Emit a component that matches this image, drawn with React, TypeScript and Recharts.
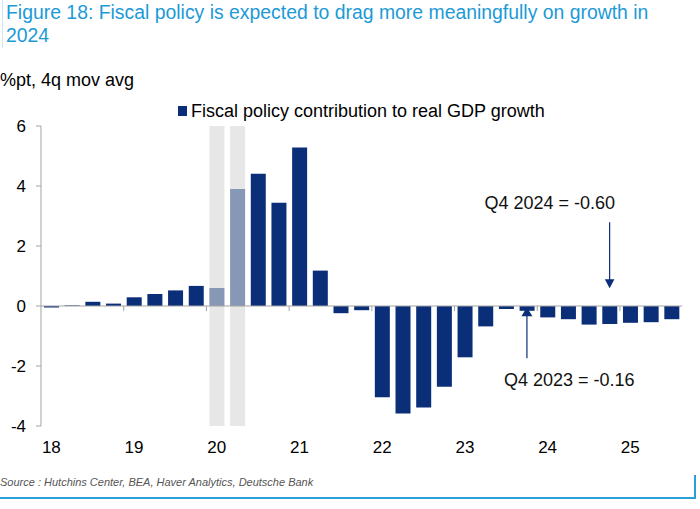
import React from "react";
import {
  BarChart,
  Bar,
  XAxis,
  YAxis,
  Cell,
  ReferenceLine,
  ReferenceDot,
} from "recharts";

// quarterly categories, 2018Q1 .. 2025Q3
const quarters = [
  "2018Q1", "2018Q2", "2018Q3", "2018Q4",
  "2019Q1", "2019Q2", "2019Q3", "2019Q4",
  "2020Q1", "2020Q2", "2020Q3", "2020Q4",
  "2021Q1", "2021Q2", "2021Q3", "2021Q4",
  "2022Q1", "2022Q2", "2022Q3", "2022Q4",
  "2023Q1", "2023Q2", "2023Q3", "2023Q4",
  "2024Q1", "2024Q2", "2024Q3", "2024Q4",
  "2025Q1", "2025Q2", "2025Q3",
];

// fiscal policy contribution to real GDP growth, %pt, 4q mov avg
const fiscalContribution = [
  -0.05, 0.02, 0.14, 0.08,
  0.29, 0.4, 0.52, 0.67,
  0.6, 3.9, 4.41, 3.44,
  5.28, 1.18, -0.24, -0.14,
  -3.04, -3.58, -3.38, -2.69,
  -1.71, -0.68, -0.1, -0.16,
  -0.38, -0.44, -0.62, -0.6,
  -0.56, -0.54, -0.44,
];

const recessionQuarters = ["2020Q1", "2020Q2"];

const yearTicks = ["2018Q1", "2019Q1", "2020Q1", "2021Q1", "2022Q1", "2023Q1", "2024Q1", "2025Q1"];
const yearLabels = ["18", "19", "20", "21", "22", "23", "24", "25"];
const yTicks = [-4, -2, 0, 2, 4, 6];

const DARK = "#0b2e78";
const LIGHT = "#8798b6";
const AXIS = "#a3a3a3";

const data = quarters.map((q, i) => ({ q, v: fiscalContribution[i] }));

const yearLabel = (q: string) => yearLabels[yearTicks.indexOf(q)] ?? "";

const RecessionBg = (props: any) => {
  const q = props.payload?.q ?? quarters[props.index];
  if (!recessionQuarters.includes(q)) return <g />;
  return <rect x={props.x} y={props.y} width={props.width} height={props.height} fill="#e7e7e7" />;
};

const ArrowDown = (p: any) => (
  <path d={`M${p.cx},${p.cy} l-4.8,-9 l9.6,0 z`} fill={DARK} />
);
const ArrowUp = (p: any) => (
  <path d={`M${p.cx},${p.cy} l-5.5,9 l11,0 z`} fill={DARK} />
);

const noteText = (text: string, anchor: "start" | "end", dx: number) => (p: any) => (
  <text
    x={p.cx + dx}
    y={p.cy}
    textAnchor={anchor}
    dominantBaseline="central"
    fontSize={18}
    fill="#111"
  >
    {text}
  </text>
);

export default function App() {
  return (
    <div
      style={{
        position: "absolute",
        left: 0,
        top: 0,
        width: 700,
        height: 509,
        background: "#fff",
        fontFamily: "'Liberation Sans', Arial, sans-serif",
        overflow: "hidden",
      }}
    >
      <div style={{ position: "absolute", left: 2, top: 0, width: 1, height: 48, background: "#cfe5f3" }} />
      <div
        style={{
          position: "absolute",
          left: 6,
          top: 1,
          width: 690,
          fontSize: 19.4,
          lineHeight: "23px",
          color: "#1c9ad6",
          whiteSpace: "nowrap",
        }}
      >
        Figure 18: Fiscal policy is expected to drag more meaningfully on growth in
        <br />
        2024
      </div>
      <div style={{ position: "absolute", left: 0, top: 70, fontSize: 18, lineHeight: "20px", color: "#000" }}>
        %pt, 4q mov avg
      </div>
      <div style={{ position: "absolute", left: 178, top: 101, fontSize: 18, lineHeight: "20px", color: "#000", display: "flex", alignItems: "center" }}>
        <span style={{ display: "inline-block", width: 9, height: 10, background: DARK, marginRight: 4 }} />
        Fiscal policy contribution to real GDP growth
      </div>

      <div style={{ position: "absolute", left: 0, top: 0 }}>
        <BarChart
          width={700}
          height={509}
          data={data}
          margin={{ top: 126, right: 18, bottom: 53, left: 0 }}
        >
          <XAxis
            dataKey="q"
            ticks={yearTicks}
            interval={0}
            tickFormatter={yearLabel}
            axisLine={false}
            tickLine={false}
            tickMargin={9}
            height={30}
            tick={{ fontSize: 17, fill: "#000" }}
          />
          <YAxis
            type="number"
            domain={[-4, 6]}
            ticks={yTicks}
            width={41}
            stroke={AXIS}
            tickSize={5}
            tickMargin={10}
            tick={{ fontSize: 17, fill: "#000" }}
          />
          <ReferenceLine y={0} stroke={AXIS} strokeWidth={1.2} />
          {yearTicks.slice(1).map((q) => (
            <ReferenceLine
              key={q}
              position="start"
              segment={[
                { x: q, y: 0 },
                { x: q, y: -0.17 },
              ]}
              stroke={AXIS}
            />
          ))}
          <Bar
            dataKey="v"
            barSize={15}
            isAnimationActive={false}
            background={RecessionBg}
          >
            {data.map((d) => (
              <Cell key={d.q} fill={recessionQuarters.includes(d.q) ? LIGHT : DARK} />
            ))}
          </Bar>

          {/* Q4 2024 note */}
          <ReferenceLine
            segment={[
              { x: "2024Q4", y: 2.79 },
              { x: "2024Q4", y: 0.85 },
            ]}
            stroke={DARK}
            strokeWidth={1.2}
          />
          <ReferenceDot x="2024Q4" y={0.59} r={0} shape={ArrowDown} />
          <ReferenceDot x="2024Q4" y={3.44} r={0} shape={noteText("Q4 2024 = -0.60", "end", 5.5)} />

          {/* Q4 2023 note */}
          <ReferenceLine
            segment={[
              { x: "2023Q4", y: -1.74 },
              { x: "2023Q4", y: -0.3 },
            ]}
            stroke={DARK}
            strokeWidth={1.2}
          />
          <ReferenceDot x="2023Q4" y={-0.04} r={0} shape={ArrowUp} />
          <ReferenceDot x="2023Q4" y={-2.48} r={0} shape={noteText("Q4 2023 = -0.16", "start", -23)} />
        </BarChart>
      </div>

      <div
        style={{
          position: "absolute",
          left: 0,
          top: 474,
          fontSize: 11,
          fontStyle: "italic",
          color: "#555",
          lineHeight: "16px",
        }}
      >
        Source : Hutchins Center, BEA, Haver Analytics, Deutsche Bank
      </div>
      <div style={{ position: "absolute", left: 0, top: 497, width: 696, height: 2, background: "#2a9fd9" }} />
      <div style={{ position: "absolute", left: 694, top: 475, width: 2, height: 24, background: "#2a9fd9" }} />
    </div>
  );
}
